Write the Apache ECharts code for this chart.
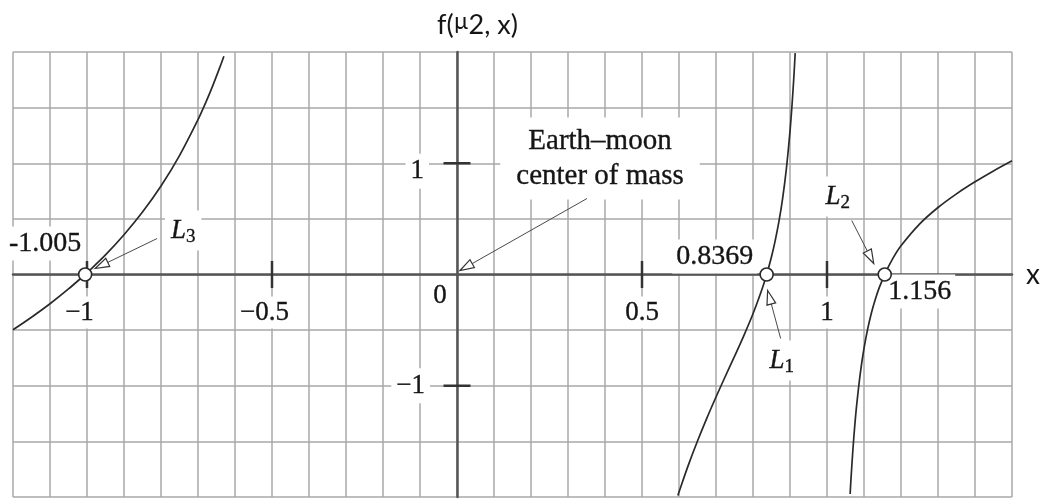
<!DOCTYPE html>
<html>
<head>
<meta charset="utf-8">
<title>f(µ2, x) — collinear Lagrange points</title>
<script src="https://cdn.jsdelivr.net/npm/echarts@6/dist/echarts.min.js"></script>
<style>
  html, body { margin: 0; padding: 0; background: #fff; }
  #chart { width: 1041px; height: 499px; }
</style>
</head>
<body>
<div id="chart"></div>
<script>
// Sampled values of f(µ2, x) on its three branches (Earth–Moon, µ2 ≈ 0.01215)
const branchL3 = [
  [-1.2, -0.497], [-1.15, -0.384], [-1.1, -0.263], [-1.05, -0.130], [-1.005, 0],
  [-1.0, 0.015], [-0.95, 0.176], [-0.9, 0.357], [-0.85, 0.561], [-0.8, 0.795],
  [-0.75, 1.069], [-0.7, 1.392], [-0.68, 1.539], [-0.66, 1.698], [-0.64, 1.871],
  [-0.63, 1.962]
];
const branchL1 = [
  [0.597, -1.986], [0.6, -1.955], [0.625, -1.716], [0.65, -1.497], [0.675, -1.293],
  [0.7, -1.101], [0.725, -0.917], [0.75, -0.736], [0.775, -0.551], [0.8, -0.353],
  [0.825, -0.126], [0.8369, 0], [0.85, 0.160], [0.86, 0.305], [0.87, 0.475],
  [0.88, 0.683], [0.89, 0.945], [0.9, 1.287], [0.905, 1.501], [0.91, 1.753],
  [0.912, 1.867], [0.914, 1.990]
];
const branchL2 = [
  [1.0625, -1.973], [1.065, -1.828], [1.07, -1.574], [1.075, -1.361], [1.08, -1.179],
  [1.09, -0.888], [1.1, -0.665], [1.11, -0.489], [1.12, -0.346], [1.13, -0.229],
  [1.14, -0.129], [1.156, 0], [1.16, 0.031], [1.18, 0.156], [1.2, 0.258],
  [1.25, 0.453], [1.3, 0.602], [1.35, 0.725], [1.4, 0.833], [1.45, 0.931],
  [1.5, 1.022]
];

// Roots of f (the collinear Lagrange points)
const rootX = [-1.005, 0.8369, 1.156];
const rootNames = ['L3', 'L1', 'L2'];
const rootLabels = ['-1.005', '0.8369', '1.156'];

// Axis ticks and labels
const xTicks = [-1, -0.5, 0.5, 1];
const xTickLabels = ['\u22121', '\u22120.5', '0.5', '1'];
const yTicks = [-1, 1];
const yTickLabels = ['\u22121', '1'];

const barycenterText = ['Earth\u2013moon', 'center of mass'];
const axisTitleX = 'x';

// Pixel offsets of notes and pointer arrows relative to the point they describe
const noteLayout = {
  value: { L3: [-40, -31], L1: [-52, -18], L2: [35, 17] },
  name:  { L3: [98, -44],  L1: [15, 86],   L2: [-47, -78] },
  arrowFrom: { L3: [72, -36], L1: [14, 64], L2: [-33, -54], O: [130, -76] },
  arrowTo:   { L3: [10, -6],  L1: [1, 16],  L2: [-11, -11], O: [3, -4] },
  barycenter: [143, -116],
  zero: [-17, 21],
  xTickLabel: [0, 38],
  yTickLabel: [[-27, 0], [-28, 8]]
};

const SERIF = '"Liberation Serif", "DejaVu Serif", serif';
const SANS = 'Lato, "Open Sans", sans-serif';
const INK = '#151515';

// shared text look for serif notes: slight stroke gives the printed weight
const serifText = {
  fontFamily: SERIF, color: INK, opacity: 1,
  textBorderColor: INK, textBorderWidth: 0.35
};

const curveStyle = { color: '#2a2a2a', width: 1.7 };
function branch(data) {
  return {
    type: 'line', data: data, showSymbol: false, smooth: 0.3,
    lineStyle: curveStyle, itemStyle: { color: '#2a2a2a' }, z: 4, silent: true
  };
}

const arrowTargets = rootNames.map((n, i) => ({ key: n, value: [rootX[i], 0] }))
  .concat([{ key: 'O', value: [0, 0] }]);

function renderArrow(params, api) {
  const key = arrowTargets[params.dataIndex].key;
  const p = api.coord([api.value(0), api.value(1)]);
  const f = noteLayout.arrowFrom[key], t = noteLayout.arrowTo[key];
  const x1 = p[0] + f[0], y1 = p[1] + f[1];
  const x2 = p[0] + t[0], y2 = p[1] + t[1];
  const dx = x2 - x1, dy = y2 - y1, len = Math.hypot(dx, dy);
  const ux = dx / len, uy = dy / len;
  const head = 14, half = 4.5;
  const bx = x2 - ux * head, by = y2 - uy * head;
  return {
    type: 'group',
    children: [
      { type: 'line', shape: { x1: x1, y1: y1, x2: bx, y2: by },
        style: { stroke: '#4a4a4a', lineWidth: 1 } },
      { type: 'polygon',
        shape: { points: [[x2, y2], [bx - uy * half, by + ux * half], [bx + uy * half, by - ux * half]] },
        style: { fill: '#fff', stroke: '#333', lineWidth: 1.2 } }
    ]
  };
}

const chart = echarts.init(document.getElementById('chart'), null, { renderer: 'canvas' });

const gridLine = { show: true, lineStyle: { color: '#a8a8a8', width: 1.5 } };
const axisLineStyle = { show: true, onZero: true, lineStyle: { color: '#555', width: 2.5 } };
const solidMark = { color: '#333', opacity: 1 };
const hidden = { opacity: 1 };

const option = {
  backgroundColor: '#fff',
  animation: false,
  grid: { left: 13, right: 29, top: 52, bottom: 2, containLabel: false, outerBoundsMode: 'none' },
  xAxis: {
    type: 'value', min: -1.2, max: 1.5, interval: 0.1,
    name: axisTitleX, nameLocation: 'end', nameGap: 14,
    nameTextStyle: { fontFamily: SANS, fontSize: 28, color: INK, verticalAlign: 'middle', padding: [0, 0, 4, 0] },
    axisLine: axisLineStyle,
    axisTick: { show: false },
    axisLabel: { show: false },
    splitLine: gridLine
  },
  yAxis: {
    type: 'value', min: -2, max: 2, interval: 0.5,
    name: 'f({mu|µ}2, x)', nameLocation: 'end', nameGap: 12,
    nameTextStyle: {
      fontFamily: SANS, fontSize: 27, color: INK, align: 'left', padding: [0, 0, 0, -20],
      lineHeight: 30,
      rich: { mu: { fontFamily: SANS, fontSize: 23, color: INK, lineHeight: 22, verticalAlign: 'top' } }
    },
    axisLine: axisLineStyle,
    axisTick: { show: false },
    axisLabel: { show: false },
    splitLine: gridLine
  },
  series: [
    branch(branchL3),
    branch(branchL1),
    branch(branchL2),
    {
      // tick marks crossing the x axis, with their labels below
      type: 'scatter', data: xTicks.map(v => [v, 0]), symbol: 'rect', symbolSize: [2.5, 27],
      itemStyle: solidMark, z: 3, silent: true,
      label: {
        show: true, position: 'inside', offset: noteLayout.xTickLabel, opacity: 1,
        formatter: p => {
          const s = xTickLabels[p.dataIndex];
          return xTicks[p.dataIndex] < 0 ? '{t|' + s + '}{p|}' : '{t|' + s + '}';
        },
        backgroundColor: '#fff', padding: [2, 2],
        rich: {
          t: Object.assign({ fontSize: 27, lineHeight: 28 }, serifText),
          p: { width: 15, fontSize: 27, lineHeight: 28 }
        }
      }
    },
    {
      // tick marks crossing the y axis, with their labels to the left
      type: 'scatter', symbol: 'rect', symbolSize: [27, 2.5],
      data: yTicks.map((v, i) => ({ value: [0, v], label: { offset: noteLayout.yTickLabel[i] } })),
      itemStyle: solidMark, z: 3, silent: true,
      label: Object.assign({
        show: true, position: 'inside', align: 'right',
        formatter: p => yTickLabels[p.dataIndex],
        fontSize: 27, backgroundColor: '#fff', padding: [4, 5]
      }, serifText)
    },
    {
      // origin label
      type: 'scatter', data: [[0, 0]], symbolSize: 0, itemStyle: hidden, z: 2, silent: true,
      label: Object.assign({
        show: true, position: 'inside', formatter: '0', offset: noteLayout.zero,
        fontSize: 27, backgroundColor: '#fff', padding: [1, 2]
      }, serifText)
    },
    {
      // numeric value of each root
      type: 'scatter', symbolSize: 0, itemStyle: hidden, z: 2, silent: true,
      data: rootX.map((x, i) => ({
        value: [x, 0],
        label: { offset: noteLayout.value[rootNames[i]], formatter: rootLabels[i] }
      })),
      label: Object.assign({
        show: true, position: 'inside', fontSize: 28,
        backgroundColor: '#fff', padding: [3, 4]
      }, serifText)
    },
    {
      // L1 / L2 / L3 names
      type: 'scatter', symbolSize: 0, itemStyle: hidden, z: 2, silent: true,
      data: rootX.map((x, i) => ({
        value: [x, 0],
        label: {
          offset: noteLayout.name[rootNames[i]],
          formatter: '{l|L}{s|' + rootNames[i].slice(1) + '}'
        }
      })),
      label: {
        show: true, position: 'inside', backgroundColor: '#fff', padding: [4, 6], opacity: 1,
        rich: {
          l: Object.assign({ fontStyle: 'italic', fontSize: 27, lineHeight: 32 }, serifText),
          s: Object.assign({ fontSize: 19, lineHeight: 16, verticalAlign: 'bottom' }, serifText)
        }
      }
    },
    {
      // barycenter note
      type: 'scatter', data: [[0, 0]], symbolSize: 0, itemStyle: hidden, z: 2, silent: true,
      label: Object.assign({
        show: true, position: 'inside', formatter: barycenterText.join('\n'),
        offset: noteLayout.barycenter, align: 'center',
        fontSize: 29, lineHeight: 35,
        backgroundColor: '#fff', padding: [6, 16]
      }, serifText)
    },
    {
      // pointer arrows
      type: 'custom', coordinateSystem: 'cartesian2d', renderItem: renderArrow,
      data: arrowTargets.map(a => a.value), encode: { x: 0, y: 1 }, clip: false, z: 5, silent: true
    },
    {
      // the roots, drawn as open circles
      type: 'scatter', data: rootX.map(x => [x, 0]), symbol: 'circle', symbolSize: 13,
      itemStyle: { color: '#fff', borderColor: '#2a2a2a', borderWidth: 1.6, opacity: 1 },
      z: 6, silent: true
    }
  ]
};

chart.setOption(option);
</script>
</body>
</html>
